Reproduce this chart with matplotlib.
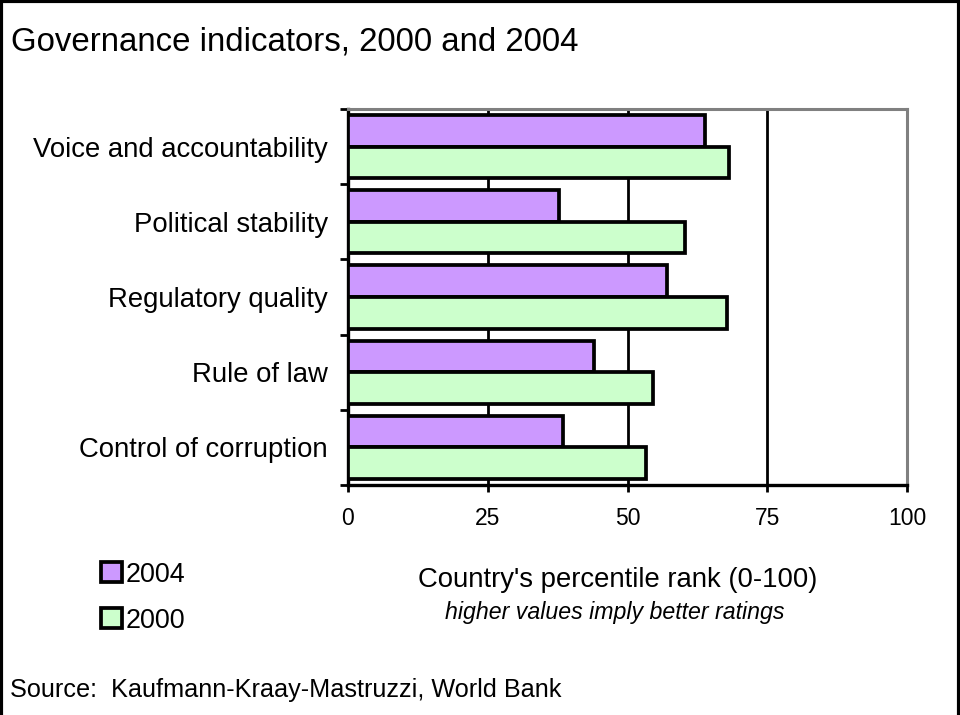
import matplotlib
matplotlib.use("Agg")
import matplotlib.pyplot as plt
from matplotlib.patches import Rectangle

plt.rcParams["font.family"] = ["Liberation Sans", "DejaVu Sans"]

CATEGORIES = [
    "Voice and accountability",
    "Political stability",
    "Regulatory quality",
    "Rule of law",
    "Control of corruption",
]
VALUES_2004 = [63.9, 37.8, 57.0, 44.1, 38.4]
VALUES_2000 = [68.1, 60.2, 67.7, 54.6, 53.3]
X_TICKS = [0, 25, 50, 75, 100]

COLOR_2004 = "#CC99FF"
COLOR_2000 = "#CCFFCC"


def main() -> None:
    fig = plt.figure(figsize=(9.6, 7.15), dpi=100)
    ax = fig.add_axes([0.362, 0.3217, 0.5833, 0.5259])

    pos = list(range(len(CATEGORIES)))
    h = 0.42
    ax.barh([p - 0.21 for p in pos], VALUES_2004, height=h, color=COLOR_2004,
            edgecolor="black", linewidth=2.7, label="2004", zorder=3)
    ax.barh([p + 0.21 for p in pos], VALUES_2000, height=h, color=COLOR_2000,
            edgecolor="black", linewidth=2.7, label="2000", zorder=3)

    ax.set_xlim(0, 100)
    ax.set_ylim(len(CATEGORIES) - 0.5, -0.5)

    for x in X_TICKS[1:-1]:
        ax.axvline(x, color="black", linewidth=2.0, zorder=1)

    ax.set_xticks(X_TICKS)
    ax.set_xticklabels([str(t) for t in X_TICKS], fontsize=16.5)
    ax.tick_params(axis="x", direction="out", length=5, width=2.0, pad=11)

    ax.set_yticks([p - 0.5 for p in range(len(CATEGORIES) + 1)])
    ax.set_yticklabels([])
    ax.tick_params(axis="y", which="major", direction="out", length=6, width=2.0)
    ax.set_yticks(pos, minor=True)
    ax.set_yticklabels(CATEGORIES, minor=True, fontsize=19.8)
    ax.tick_params(axis="y", which="minor", length=0, pad=14)

    for side in ("left", "bottom"):
        ax.spines[side].set_color("black")
        ax.spines[side].set_linewidth(2.4)
    for side in ("top", "right"):
        ax.spines[side].set_color("#808080")
        ax.spines[side].set_linewidth(2.2)

    fig.text(0.0115, 0.941, "Governance indicators, 2000 and 2004",
             fontsize=23.8, ha="left", va="center")
    fig.text(0.643, 0.189, "Country's percentile rank (0-100)",
             fontsize=19.8, ha="center", va="center")
    fig.text(0.64, 0.144, "higher values imply better ratings",
             fontsize=16.7, style="italic", ha="center", va="center")
    fig.text(0.0105, 0.035, "Source:  Kaufmann-Kraay-Mastruzzi, World Bank",
             fontsize=18.2, ha="left", va="center")

    handles, labels = ax.get_legend_handles_labels()
    fig.legend(handles, labels, loc="upper left",
               bbox_to_anchor=(0.0915, 0.2335), frameon=False,
               fontsize=19.4, handlelength=0.75, handleheight=0.75,
               handletextpad=0.15, labelspacing=0.75, borderpad=0)

    fig.patches.append(Rectangle((0.0015, -0.05), 0.997, 1.048,
                                 transform=fig.transFigure, fill=False,
                                 edgecolor="black", linewidth=3))

    fig.savefig("out.png", dpi=100)
    plt.close(fig)


if __name__ == "__main__":
    main()
